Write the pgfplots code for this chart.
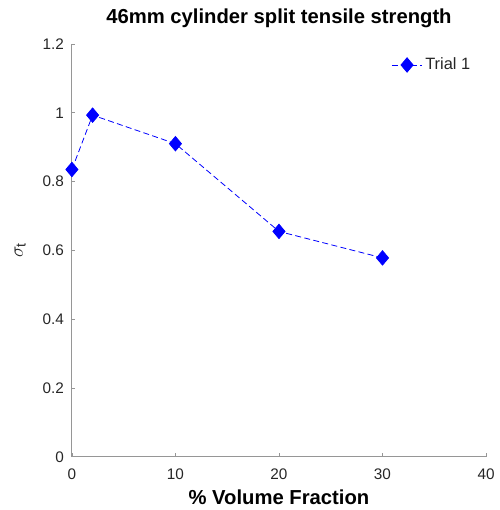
\documentclass[border=0pt]{standalone}
\usepackage{pgfplots}
\pgfplotsset{compat=1.18}
\usepackage{fontspec}
\setmainfont{Liberation Sans}
\definecolor{axgray}{RGB}{150,150,150}
\definecolor{txt}{RGB}{38,38,38}
\begin{document}
\begin{tikzpicture}
\begin{axis}[
  scale only axis,
  width=311pt, height=310pt,
  xmin=0, xmax=40, ymin=0, ymax=1.2,
  xtick={0,10,...,40}, ytick={0,0.2,...,1.2},
  yticklabels={0,0.2,0.4,0.6,0.8,1,1.2},
  axis x line*=bottom, axis y line*=left,
  axis line style={axgray, line width=0.8pt, -},
  tick style={axgray, line width=0.6pt},
  tick align=inside, major tick length=2.5pt,
  ticklabel style={font=\fontsize{11.5}{13}\selectfont, text=txt},
  xticklabel style={yshift=-5.5pt},
  yticklabel style={xshift=-2.5pt},
  /pgf/number format/assume math mode=true,
  title={\bfseries 46mm cylinder split tensile strength},
  title style={font=\fontsize{15.2}{17}\selectfont, text=black, at={(axis description cs:0.5,1)}, anchor=base, yshift=9.5pt},
  xlabel={\bfseries \% Volume Fraction},
  xlabel style={font=\fontsize{15.2}{17}\selectfont, text=black, at={(axis description cs:0.5,0)}, anchor=base, yshift=-36pt},
  ylabel={$\sigma_{\mathrm{t}}$},
  ylabel style={font=\fontsize{15}{17}\selectfont, text=txt, at={(axis description cs:-0.125,0.5)}, anchor=center},
  legend style={draw=none, fill=none, at={(0.972,0.949)}, anchor=east, font=\fontsize{12.3}{14}\selectfont, text=txt, inner sep=1pt},
  legend cell align=left,
  legend image code/.code={\draw[mark repeat=2,mark phase=2] plot coordinates {(0cm,0cm) (0.4cm,0cm) (0.8cm,0cm)};},
]
\addplot[blue, dash pattern=on 4.5pt off 2.5pt, line width=0.6pt, mark=diamond*, mark size=5.4pt, mark options={solid, fill=blue, draw=blue, xscale=1.12}]
coordinates {(0,0.835) (2,0.993) (10,0.910) (20,0.655) (30,0.578)};
\addlegendentry{Trial 1}
\end{axis}
\pgfresetboundingbox
\path[use as bounding box] (-54pt,-40pt) rectangle (320.75pt,343pt);
\end{tikzpicture}
\end{document}
